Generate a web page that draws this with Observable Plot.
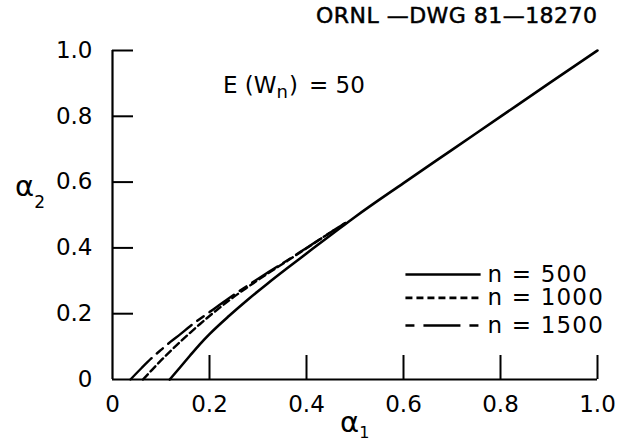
<!DOCTYPE html>
<html><head><meta charset="utf-8">
<script src="https://cdn.jsdelivr.net/npm/d3@7"></script>
<script src="https://cdn.jsdelivr.net/npm/@observablehq/plot@0.6"></script>
<style>body{margin:0;background:#fff} svg{display:block}</style>
</head><body><div id="chart"></div>
<script>
// α1 (x) and α2 (y) values
const x500  = [0.118, 0.14, 0.16, 0.18, 0.20, 0.24, 0.28, 0.32, 0.36, 0.40, 0.44, 0.48, 0.50, 0.60, 0.70, 0.80, 0.90, 1.00];
const y500  = [0.000, 0.038, 0.073, 0.107, 0.138, 0.193, 0.244, 0.292, 0.338, 0.383, 0.428, 0.472, 0.494, 0.597, 0.698, 0.799, 0.900, 1.000];
const x1000 = [0.063, 0.08, 0.10, 0.12, 0.14, 0.16, 0.18, 0.20, 0.24, 0.28, 0.32, 0.36, 0.40, 0.44, 0.48];
const y1000 = [0.000, 0.027, 0.058, 0.087, 0.115, 0.142, 0.168, 0.193, 0.240, 0.282, 0.322, 0.360, 0.399, 0.438, 0.476];
const x1500 = [0.037, 0.06, 0.08, 0.10, 0.12, 0.14, 0.16, 0.18, 0.20, 0.24, 0.28, 0.32, 0.36, 0.40, 0.44, 0.48];
const y1500 = [0.000, 0.035, 0.064, 0.090, 0.115, 0.138, 0.162, 0.184, 0.205, 0.247, 0.287, 0.325, 0.362, 0.400, 0.438, 0.476];
const nValues = [500, 1000, 1500];
const xTickMarks = [0.2, 0.4, 0.6, 0.8, 1.0];
const xTickLabels = [0, 0.2, 0.4, 0.6, 0.8, 1.0];
const yTickMarks = [0.2, 0.4, 0.6, 0.8, 1.0];
const yTickLabels = [0, 0.2, 0.4, 0.6, 0.8, 1.0];

const toRows = (xs, ys, n) => xs.map((x, i) => ({x, y: ys[i], n}));
const r500 = toRows(x500, y500, 500);
const r1000 = toRows(x1000, y1000, 1000);
const r1500 = toRows(x1500, y1500, 1500);

const dash = {500: null, 1000: "7,4", 1500: "30,7,8,7"};
const legendDash = {500: null, 1000: "7,4", 1500: "9,9,37,9"};
const legendYs = {500: 0.319, 1000: 0.248, 1500: 0.164};
const legendRows = nValues.map(n => ({n, x1: 0.604, x2: 0.759, tx: 0.773, y: legendYs[n]}));

const fmt = d => d === 0 ? "0" : d.toFixed(1);
const font = "DejaVu Sans";
const W = 628, H = 444, ML = 112, MR = 31, MT = 50, MB = 65;
const frameW = W - ML - MR, frameH = H - MT - MB;

const plot = Plot.plot({
  width: W, height: H,
  marginLeft: ML, marginRight: MR, marginTop: MT, marginBottom: MB,
  x: {domain: [0, 1]},
  y: {domain: [0, 1]},
  style: {fontFamily: font, fontSize: "23px", background: "white", color: "black"},
  marks: [
    Plot.axisX({ticks: xTickLabels, tickSize: 0, tickPadding: 16, tickFormat: fmt, fontSize: 23, label: null}),
    Plot.axisY({ticks: yTickLabels, tickSize: 0, tickPadding: 20, tickFormat: fmt, fontSize: 23, label: null}),
    Plot.tickX(xTickMarks, {x: d => d, insetTop: frameH - 24, strokeWidth: 2}),
    Plot.tickY(yTickMarks, {y: d => d, insetRight: frameW - 21, strokeWidth: 2}),
    Plot.ruleX([0], {strokeWidth: 2.2}),
    Plot.ruleY([0], {strokeWidth: 2.2}),
    Plot.line(r500, {x: "x", y: "y", stroke: "black", strokeWidth: 2.6, curve: "monotone-x"}),
    Plot.line(r1000, {x: "x", y: "y", stroke: "black", strokeWidth: 2.4, strokeDasharray: dash[1000], curve: "monotone-x"}),
    Plot.line(r1500, {x: "x", y: "y", stroke: "black", strokeWidth: 2.4, strokeDasharray: dash[1500], curve: "monotone-x"}),
    ...nValues.map(n => Plot.link(legendRows.filter(d => d.n === n), {x1: "x1", x2: "x2", y1: "y", y2: "y",
      stroke: "black", strokeWidth: 2.6, strokeDasharray: legendDash[n]})),
    Plot.text(legendRows, {x: "tx", y: "y", text: d => `n = ${d.n}`, textAnchor: "start", lineAnchor: "middle",
      fontSize: 23, fill: "black"})
  ]
});
document.getElementById("chart").append(plot);

// Annotations
const svg = d3.select(plot);
svg.select("g[aria-label='text']").selectAll("text").style("letter-spacing", "1.2px");

svg.append("text").attr("x", 597).attr("y", 23).attr("text-anchor", "end")
  .attr("textLength", 281).attr("lengthAdjust", "spacing")
  .attr("font-family", font).attr("font-size", 22).attr("stroke", "black").attr("stroke-width", 0.5)
  .text("ORNL —DWG 81—18270");

const e = svg.append("text").attr("x", 223).attr("y", 93).attr("text-anchor", "start")
  .attr("font-family", font).attr("font-size", 23);
e.append("tspan").text("E (W");
e.append("tspan").attr("font-size", 18).attr("dy", 5).text("n");
e.append("tspan").attr("dy", -5).attr("dx", 1).text(")");
e.append("tspan").attr("dx", 11).text("= 50");

const a2 = svg.append("text").attr("x", 15).attr("y", 196).attr("text-anchor", "start")
  .attr("font-family", font).attr("font-size", 29);
a2.append("tspan").text("α");
a2.append("tspan").attr("font-size", 17).attr("dy", 12).text("2");

const a1 = svg.append("text").attr("x", 340).attr("y", 432).attr("text-anchor", "start")
  .attr("font-family", font).attr("font-size", 29);
a1.append("tspan").text("α");
a1.append("tspan").attr("font-size", 16).attr("dy", 6).text("1");
</script></body></html>
